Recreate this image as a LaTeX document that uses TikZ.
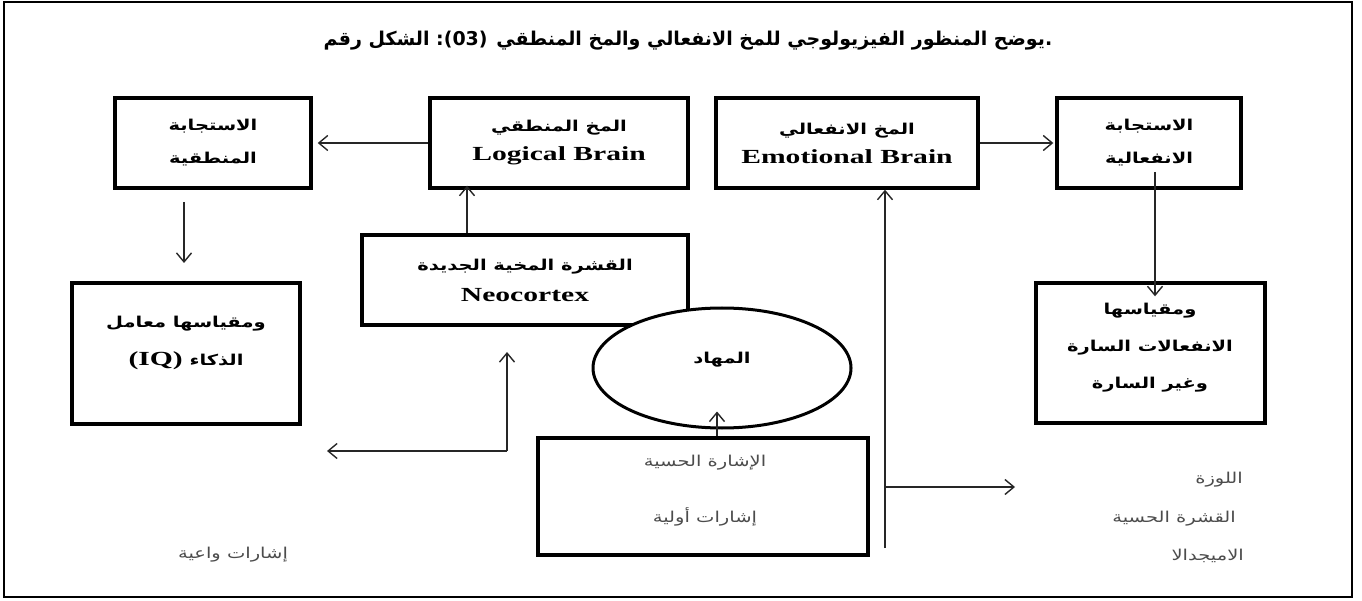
\documentclass[tikz,border=0pt]{standalone}
\usepackage{fontspec}
\setmainfont{Liberation Serif}
\newfontfamily\arf[Script=Arabic]{DejaVu Sans}
\TeXXeTstate=1
\usetikzlibrary{arrows.meta,shapes.geometric}
\newcommand\ARb[1]{\scalebox{1.3}[1]{\arf\bfseries\beginR #1\endR}}
\newcommand\ARn[1]{\scalebox{1.3}[1]{\arf\beginR #1\endR}}
\newcommand\LAT[1]{\scalebox{1.48}[1]{\fontsize{20}{22}\selectfont\rmfamily\bfseries #1}}
\begin{document}
\begin{tikzpicture}[x=1pt,y=-1pt,
  box/.style={draw=black,line width=3.4pt,rectangle,inner sep=0pt},
  txt/.style={align=center,inner sep=0pt,font=\fontsize{15}{18}\selectfont},
  gtxt/.style={txt,text=black!70},
  arr/.style={draw=black!85,line width=1.4pt,-{Straight Barb[length=9pt,width=15pt]}},
]
\useasboundingbox (0,0) rectangle (1362,601);
\draw[line width=2pt] (4,2) rectangle (1352,597);

% title
\node[inner sep=0pt,font=\fontsize{19}{22}\selectfont] (title) at (688,41)
  {\arf\bfseries \beginR الشكل رقم\endR{} (03): \beginR يوضح المنظور الفيزيولوجي للمخ الانفعالي والمخ المنطقي\endR.};

% boxes
\node[box,minimum width=196pt,minimum height=90pt] (respL) at (213,143) {};
\node[box,minimum width=258pt,minimum height=90pt] (logic) at (559,143) {};
\node[box,minimum width=262pt,minimum height=90pt] (emo) at (847,143) {};
\node[box,minimum width=184pt,minimum height=90pt] (respE) at (1149,143) {};
\node[box,minimum width=228pt,minimum height=141pt] (iq) at (186,353.5) {};
\node[box,minimum width=326pt,minimum height=90pt] (neo) at (525,280) {};
\node[box,minimum width=229pt,minimum height=140pt] (meas) at (1150.5,353) {};
\node[box,minimum width=330pt,minimum height=117pt] (sens) at (703,496.5) {};
\node[draw,ellipse,line width=3pt,fill=white,minimum width=258pt,minimum height=120pt,inner sep=0pt] (thal) at (722,368) {};

% texts
\node[txt] (respLt) at (213,143) {\ARb{الاستجابة}\\[15pt]\ARb{المنطقية}};
\node[txt] (logict) at (559,143) {\ARb{المخ المنطقي}\\[11pt]\LAT{Logical Brain}};
\node[txt] (emot) at (847,143) {\ARb{المخ الانفعالي}\\[11pt]\LAT{Emotional Brain}};
\node[txt] (respEt) at (1149,143) {\ARb{الاستجابة}\\[15pt]\ARb{الانفعالية}};
\node[txt] (iqt) at (186,343) {\ARb{ومقياسها معامل}\\[20pt]\ARb{الذكاء \beginL\scalebox{0.77}[1]{\LAT{(IQ)}}\endL}};
\node[txt] (neot) at (525,280) {\ARb{القشرة المخية الجديدة}\\[13pt]\LAT{Neocortex}};
\node[txt] (meast) at (1150,348) {\ARb{ومقياسها}\\[19pt]\ARb{الانفعالات السارة}\\[19pt]\ARb{وغير السارة}};
\node[txt] (thalt) at (722,360) {\ARb{المهاد}};
\node[gtxt] (senst) at (705,490.5) {\ARn{الإشارة الحسية}\\[37pt]\ARn{إشارات أولية}};
\node[gtxt] (conscious) at (233,555) {\ARn{إشارات واعية}};
\node[gtxt,anchor=east] (amyg1) at (1243,480) {\ARn{اللوزة}};
\node[gtxt,anchor=east] (cortex) at (1236,519) {\ARn{القشرة الحسية}};
\node[gtxt,anchor=east] (amyg2) at (1244,556) {\ARn{الاميجدالا}};

% connectors
\draw[arr,shorten >=5pt] (logic.west) -- (respL.east);
\draw[arr,shorten >=2pt] (emo.east) -- (respE.west);
\coordinate (dA) at (184,202); \coordinate (dB) at (184,263);
\draw[arr] (dA) -- (dB);
\coordinate (nx) at (467,0);
\draw[arr,shorten >=-4pt] (neo.north -| nx) -- (logic.south -| nx);
\coordinate (Lc) at (507,451); \coordinate (Lu) at (507,352); \coordinate (Ll) at (327,451);
\draw[arr] (Lc) -- (Lu);
\draw[arr] (Lc) -- (Ll);
\coordinate (sx) at (717,0);
\draw[arr,shorten >=-18pt] (sens.north -| sx) -- (thal.south -| sx);
\coordinate (vb) at (885,548);
\draw[arr] (vb) -- (emo.south -| vb);
\coordinate (br) at (885,487); \coordinate (bt) at (1015,487);
\draw[arr] (br) -- (bt);
\coordinate (rx) at (1155,172);
\draw[arr,shorten >=-15pt] (rx) -- (meas.north -| rx);
\end{tikzpicture}
\end{document}
